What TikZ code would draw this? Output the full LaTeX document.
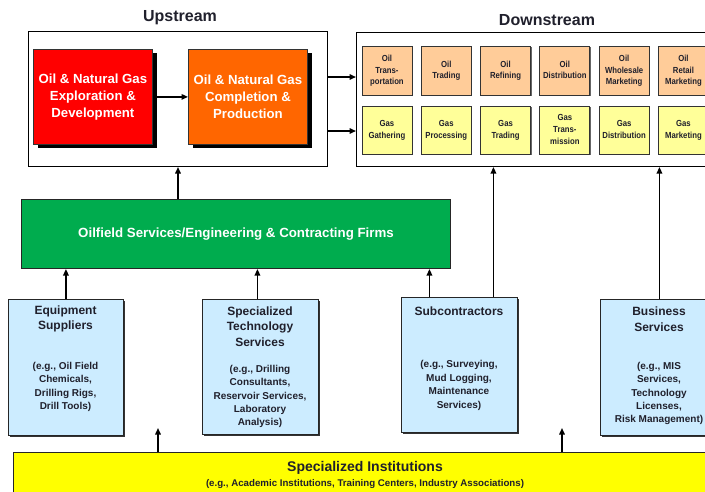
\documentclass[tikz,border=0pt]{standalone}
\usepackage{fontspec}
\setmainfont{Liberation Sans}
\usepackage{graphicx}
\usetikzlibrary{arrows.meta,shadows,calc}
\definecolor{redbox}{HTML}{FF0000}
\definecolor{orangebox}{HTML}{FF6600}
\definecolor{greenbox}{HTML}{00AC4E}
\definecolor{lblue}{HTML}{CCECFF}
\definecolor{ybox}{HTML}{FFFF00}
\definecolor{oilbox}{HTML}{FFCC99}
\definecolor{gasbox}{HTML}{FFFF99}
\definecolor{txt}{HTML}{20202C}
\newcommand{\sqz}[1]{\scalebox{0.88}[1]{\begin{tabular}{@{}c@{}}#1\end{tabular}}}
\begin{document}
\begin{tikzpicture}[x=1pt,y=-1pt,
  frame/.style={draw=black, line width=1pt, fill=white, inner sep=0pt, anchor=north west},
  bigbox/.style={draw=black!80, line width=0.8pt, inner sep=0pt, anchor=north west,
    minimum width=119pt, minimum height=95pt, text=white, align=center,
    font=\fontsize{13.2}{17}\selectfont\bfseries,
    general shadow={fill=black, shadow xshift=5pt, shadow yshift=-4pt}},
  smallbox/.style={draw=black!80, line width=0.9pt, minimum width=50pt, minimum height=48.5pt,
    inner sep=0pt, anchor=north west, text=txt, font=\fontsize{8.8}{11.7}\selectfont\bfseries,
    general shadow={fill=black!60, shadow xshift=1pt, shadow yshift=-1pt}},
  bluebox/.style={draw=black!85, line width=0.9pt, fill=lblue, inner sep=0pt, anchor=north west,
    general shadow={fill=black!80, shadow xshift=1.5pt, shadow yshift=-1.5pt}},
  btitle/.style={font=\fontsize{12}{15.7}\selectfont\bfseries, text=txt, align=center, inner sep=0pt},
  bnote/.style={font=\fontsize{10}{13.4}\selectfont\bfseries, text=txt, align=center, inner sep=0pt},
  stitle/.style={font=\fontsize{16}{18}\selectfont\bfseries, text=txt, inner sep=0pt},
  arr/.style={line width=1.5pt, -{Triangle[length=6.5pt,width=5.5pt]}}
]
\useasboundingbox (0,0) rectangle (705,491);
\clip (0,0) rectangle (705,491);

% titles
\node[stitle] (tup) at (180,18) {Upstream};
\node[stitle] (tdn) at (547,20) {Downstream};

% upstream frame
\node[frame, minimum width=299pt, minimum height=135pt] (up) at (28,31) {};
\node[bigbox, fill=redbox] (red) at (33,49) {Oil \& Natural Gas\\Exploration \&\\Development};
\node[bigbox, fill=orangebox] (ora) at (188,49) {Oil \& Natural Gas\\Completion \&\\Production};
\draw[arr] (red.east) -- (ora.west);

% downstream frame
\node[frame, minimum width=370pt, minimum height=134pt] (dn) at (356,32) {};
\foreach \i/\t in {0/{Oil\\Trans-\\portation},1/{Oil\\Trading},2/{Oil\\Refining},
  3/{Oil\\Distribution},4/{Oil\\Wholesale\\Marketing},5/{Oil\\Retail\\Marketing}}
  \node[smallbox, fill=oilbox] (o\i) at ({361.5+59.3*\i},46) {\sqz{\t}};
\foreach \i/\t in {0/{Gas\\Gathering},1/{Gas\\Processing},2/{Gas\\Trading},
  3/{Gas\\Trans-\\mission},4/{Gas\\Distribution},5/{Gas\\Marketing}}
  \node[smallbox, fill=gasbox] (g\i) at ({361.5+59.3*\i},105.5) {\sqz{\t}};

\coordinate (r1) at (0,77);
\coordinate (r2) at (0,131);
\draw[arr] (up.east |- r1) -- (dn.west |- r1);
\draw[arr] (up.east |- r2) -- (dn.west |- r2);

% green
\node[draw=black!85, line width=1pt, fill=greenbox, inner sep=0pt, anchor=north west,
  minimum width=429pt, minimum height=69pt, text=white,
  font=\fontsize{13.3}{15}\selectfont\bfseries] (grn) at (21,199)
  {Oilfield Services/Engineering \& Contracting Firms};
\draw[arr] (grn.north -| up.south) -- (up.south);

% bottom boxes
\node[bluebox, minimum width=115pt, minimum height=136pt] (eq) at (8,299) {};
\node[bluebox, minimum width=116pt, minimum height=135pt] (st) at (202,299) {};
\node[bluebox, minimum width=116pt, minimum height=135pt] (sub) at (401,297) {};
\node[bluebox, minimum width=118pt, minimum height=136pt] (bus) at (600,299) {};

\node[btitle] (eqt) at (65.5,319) {Equipment\\Suppliers};
\node[bnote] (eqn) at (65.5,387) {(e.g., Oil Field\\Chemicals,\\Drilling Rigs,\\Drill Tools)};
\node[btitle] (stt) at (260,326.5) {Specialized\\Technology\\Services};
\node[bnote] (stn) at (260,396.5) {(e.g., Drilling\\Consultants,\\Reservoir Services,\\Laboratory\\Analysis)};
\node[btitle] (subt) at (459,311) {Subcontractors};
\node[bnote] (subn) at (459,385.5) {(e.g., Surveying,\\Mud Logging,\\Maintenance\\Services)};
\node[btitle] (bust) at (659,319) {Business\\Services};
\node[bnote] (busn) at (659,393.5) {(e.g., MIS\\Services,\\Technology\\Licenses,\\Risk Management)};

\draw[arr] (eq.north) -- (eq.north |- grn.south);
\draw[arr] ([xshift=-3pt]st.north) -- ([xshift=-3pt]st.north |- grn.south);
\draw[arr] ([xshift=-30pt]sub.north) -- ([xshift=-30pt]sub.north |- grn.south);
\draw[arr] ([xshift=34pt]sub.north) -- ([xshift=34pt]sub.north |- dn.south);
\draw[arr] (bus.north) -- (bus.north |- dn.south);

% yellow
\node[draw=black!85, line width=1pt, fill=ybox, inner sep=0pt, anchor=north west,
  minimum width=720pt, minimum height=60pt] (yel) at (13,452) {};
\node[font=\fontsize{14}{16}\selectfont\bfseries, text=txt, inner sep=0pt] (yt) at (365,468) {Specialized Institutions};
\node[font=\fontsize{9.7}{11}\selectfont\bfseries, text=txt, inner sep=0pt] (yn) at (365,484)
  {(e.g., Academic Institutions, Training Centers, Industry Associations)};
\coordinate (f1) at (158,428);
\coordinate (f2) at (562,428);
\draw[arr] (yel.north -| f1) -- (f1);
\draw[arr] (yel.north -| f2) -- (f2);
\end{tikzpicture}
\end{document}
